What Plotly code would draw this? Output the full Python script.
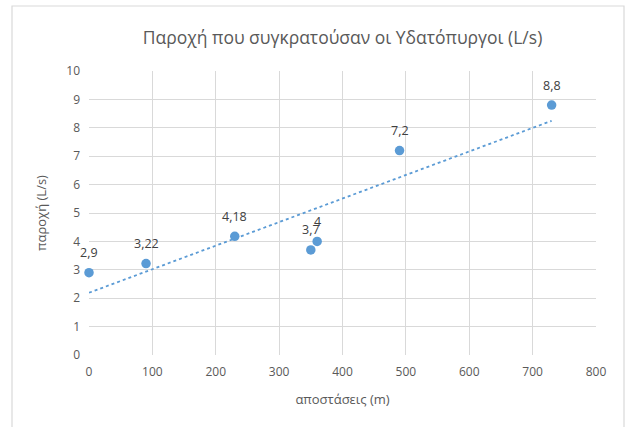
import numpy as np
import plotly.graph_objects as go

distances = [0, 90, 230, 350, 360, 490, 730]
flow = [2.9, 3.22, 4.18, 3.7, 4, 7.2, 8.8]
labels = [str(v).replace('.', ',') for v in flow]
x_ticks = [0, 100, 200, 300, 400, 500, 600, 700, 800]
y_ticks = [0, 1, 2, 3, 4, 5, 6, 7, 8, 9, 10]

slope, intercept = np.polyfit(distances, flow, 1)
tx = [min(distances), max(distances)]
ty = [intercept + slope * v for v in tx]

W, H = 626, 427
L, R, T, B = 89, 30, 71, 72
pw, ph = W - L - R, H - T - B

font = "Open Sans, Noto Sans, sans-serif"
grey = "#595959"

fig = go.Figure()
fig.add_trace(go.Scatter(x=tx, y=ty, mode="lines",
                         line=dict(color="#5B9BD5", width=1.8, dash="dot"),
                         hoverinfo="skip", showlegend=False, cliponaxis=False))
fig.add_trace(go.Scatter(x=distances, y=flow, mode="markers",
                         marker=dict(color="#5B9BD5", size=9.5),
                         showlegend=False, cliponaxis=False))

for xv, yv, lab in zip(distances, flow, labels):
    fig.add_annotation(x=xv, y=yv, text=lab, showarrow=False, yshift=20,
                       xanchor="center", yanchor="middle",
                       font=dict(family=font, size=12.5, color="#404040"))

fig.add_shape(type="rect", xref="paper", yref="paper",
              x0=(12 - L) / pw, x1=(624 - L) / pw,
              y0=-(440 - T - ph) / ph, y1=(H - 6 - B) / ph,
              line=dict(color="#D9D9D9", width=1.2), fillcolor="rgba(0,0,0,0)",
              layer="below")

fig.update_layout(
    width=W, height=H,
    margin=dict(l=L, r=R, t=T, b=B, autoexpand=False),
    paper_bgcolor="white", plot_bgcolor="white",
    title=dict(text="Παροχή που συγκρατούσαν οι Υδατόπυργοι (L/s)",
               x=0.5, xref="paper", xanchor="center", y=(H - 38) / H, yanchor="middle",
               font=dict(family=font, size=17.5, color=grey)),
    xaxis=dict(range=[0, 800], tickvals=x_ticks, showgrid=True, gridcolor="#D9D9D9",
               gridwidth=1, zeroline=False, showline=False,
               tickfont=dict(family=font, size=12, color=grey),
               ticklabelstandoff=8,
               title=dict(text="αποστάσεις (m)", font=dict(family=font, size=13, color=grey),
                          standoff=15),
               ticks="", fixedrange=True, automargin=False),
    yaxis=dict(range=[0, 10], tickvals=y_ticks, showgrid=True, gridcolor="#D9D9D9",
               gridwidth=1, zeroline=False, showline=False,
               tickfont=dict(family=font, size=12, color=grey),
               ticklabelstandoff=8,
               title=dict(text="παροχή (L/s)", font=dict(family=font, size=13, color=grey),
                          standoff=16),
               ticks="", fixedrange=True, automargin=False),
    showlegend=False,
)
fig.write_html("out.html", config={"displayModeBar": False},
               post_script="document.body.style.margin='0';")
